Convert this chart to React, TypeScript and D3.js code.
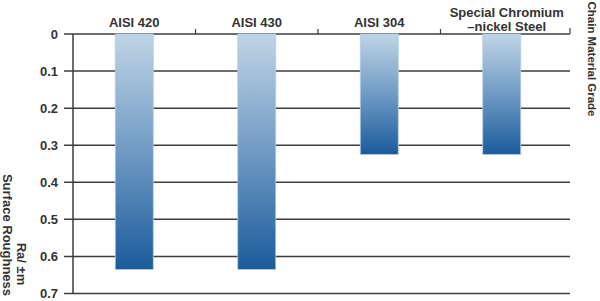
import React from "react";
import * as d3 from "d3";

const categories = ["AISI 420", "AISI 430", "AISI 304", "Special Chromium\n–nickel Steel"];
const roughness = [0.635, 0.635, 0.325, 0.325];
const yTicks = [0, 0.1, 0.2, 0.3, 0.4, 0.5, 0.6, 0.7];
const yTickLabels = ["0", "0.1", "0.2", "0.3", "0.4", "0.5", "0.6", "0.7"];

const W = 600;
const H = 301;
const left = 73;
const right = 570;
const top = 34;
const bottom = 293.5;

export default function App() {
  const x = d3.scaleBand<string>().domain(categories).range([left, 563]).paddingInner(0).paddingOuter(0);
  const y = d3.scaleLinear().domain([0, 0.7]).range([top, bottom]);
  const bw = 38;
  const font = "'Liberation Sans', Arial, sans-serif";
  const textColor = "#333";
  const lineColor = "#3d3d3d";
  const boundaries = categories.slice(1).map((c) => x(c) as number);

  return (
    <svg width={W} height={H} style={{ position: "absolute", left: 0, top: 0 }}>
      <defs>
        <linearGradient id="barGrad" x1="0" y1="0" x2="0" y2="1">
          <stop offset="0%" stopColor="#c0d4e6" />
          <stop offset="50%" stopColor="#709ac4" />
          <stop offset="100%" stopColor="#1b5b9b" />
        </linearGradient>
      </defs>
      {yTicks.map((t, i) => (
        <g key={t}>
          <line x1={64} x2={right} y1={y(t)} y2={y(t)} stroke={lineColor} strokeWidth={1.5} />
          <text
            x={58}
            y={y(t)}
            dy="0.36em"
            textAnchor="end"
            fontFamily={font}
            fontWeight="bold"
            fontSize={13}
            fill={textColor}
          >
            {yTickLabels[i]}
          </text>
        </g>
      ))}
      <line x1={left} x2={left} y1={top} y2={bottom} stroke={lineColor} strokeWidth={1.5} />
      {boundaries.map((b, i) => (
        <line key={i} x1={b} x2={b} y1={top - 5} y2={top} stroke={lineColor} strokeWidth={1.2} />
      ))}
      <line x1={right} x2={right} y1={top - 6} y2={top} stroke={lineColor} strokeWidth={1.2} />
      {categories.map((c, i) => {
        const cx = (x(c) as number) + x.bandwidth() / 2;
        return (
          <rect
            key={c}
            x={cx - bw / 2}
            y={y(0)}
            width={bw}
            height={y(roughness[i]) - y(0)}
            fill="url(#barGrad)"
            stroke="#b3cce3"
            strokeWidth={0.8}
          />
        );
      })}
      {categories.map((c) => {
        const cx = (x(c) as number) + x.bandwidth() / 2;
        const lines = c.split("\n");
        return (
          <text key={c} textAnchor="middle" fontFamily={font} fontWeight="bold" fontSize={13} fill={textColor}>
            {lines.map((l, j) => (
              <tspan key={j} x={cx + (lines.length > 1 ? 5 : 0)} y={lines.length > 1 ? 17 + j * 14 : 27}>
                {l}
              </tspan>
            ))}
          </text>
        );
      })}
      <text
        transform="translate(3,235) rotate(90)"
        textAnchor="middle"
        fontFamily={font}
        fontWeight="bold"
        fontSize={13}
        fill={textColor}
      >
        Surface Roughness
      </text>
      <text
        transform="translate(17,264) rotate(90)"
        textAnchor="middle"
        fontFamily={font}
        fontWeight="bold"
        fontSize={13}
        fill={textColor}
      >
        Ra/ ±m
      </text>
      <text
        transform="translate(588,59) rotate(90)"
        textAnchor="middle"
        fontFamily={font}
        fontWeight="bold"
        fontSize={11.5}
        fill={textColor}
      >
        Chain Material Grade
      </text>
    </svg>
  );
}
